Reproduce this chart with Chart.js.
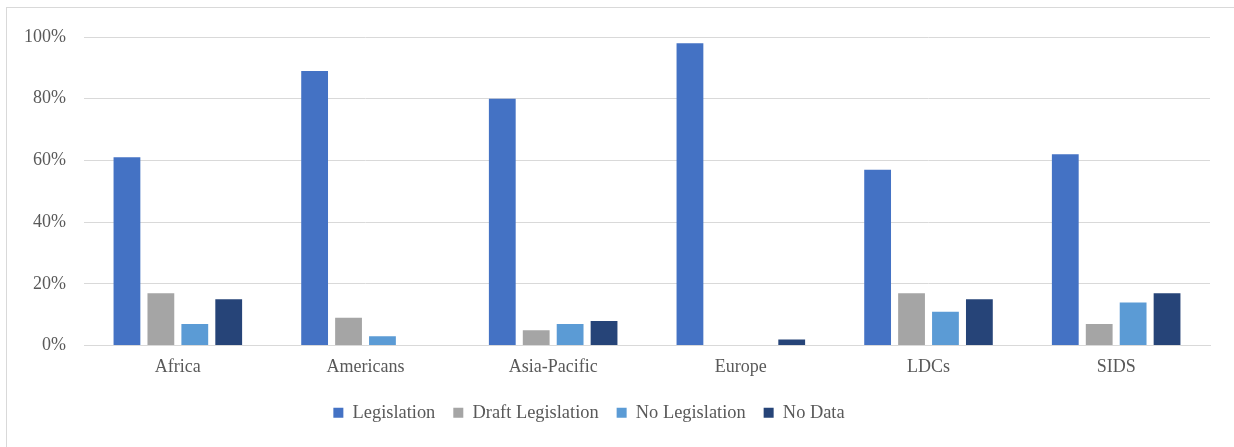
<!DOCTYPE html>
<html>
<head>
<meta charset="utf-8">
<script src="https://cdn.jsdelivr.net/npm/chart.js@4/dist/chart.umd.min.js"></script>
<style>
  html, body { margin: 0; padding: 0; background: #ffffff; overflow: hidden; }
  #frame { position: absolute; left: 6px; top: 7px; width: 1300px; height: 500px; border: 1px solid #d9d9d9; box-sizing: border-box; }
  #wrap { position: absolute; left: 0; top: 0; width: 1234px; height: 447px; }
</style>
</head>
<body>
<div id="frame"></div>
<div id="wrap"><canvas id="c" width="1234" height="447"></canvas></div>
<script>
const categories = ["Africa", "Americans", "Asia-Pacific", "Europe", "LDCs", "SIDS"];
const legislation = [61, 89, 80, 98, 57, 62];
const draftLegislation = [17, 9, 5, 0, 17, 7];
const noLegislation = [7, 3, 7, 0, 11, 14];
const noData = [15, 0, 8, 2, 15, 17];
const yTicks = [0, 20, 40, 60, 80, 100];

const font = "'Liberation Serif', 'Times New Roman', serif";
const textColor = "#595959";
const gridColor = "#d9d9d9";

const shiftLegend = {
  id: "shiftLegend",
  afterLayout(chart) {
    if (chart.legend) { chart.legend.left -= 16; chart.legend.right -= 16; }
  }
};

new Chart(document.getElementById("c"), {
  type: "bar",
  data: {
    labels: categories,
    datasets: [
      { label: "Legislation", data: legislation, backgroundColor: "#4472C4" },
      { label: "Draft Legislation", data: draftLegislation, backgroundColor: "#A5A5A5" },
      { label: "No Legislation", data: noLegislation, backgroundColor: "#5B9BD5" },
      { label: "No Data", data: noData, backgroundColor: "#264478" }
    ]
  },
  plugins: [shiftLegend],
  options: {
    responsive: false,
    animation: false,
    devicePixelRatio: 1,
    layout: { padding: { left: 0, right: 24, top: 37, bottom: 15 } },
    datasets: { bar: { categoryPercentage: 0.723, barPercentage: 0.79, borderWidth: 0 } },
    plugins: {
      tooltip: { enabled: false },
      legend: {
        position: "bottom",
        labels: {
          boxWidth: 10, boxHeight: 10, padding: 18,
          color: textColor,
          font: { family: font, size: 18.4 }
        }
      }
    },
    scales: {
      x: {
        grid: { display: false, drawTicks: false },
        border: { display: true, color: gridColor, width: 1 },
        ticks: { color: textColor, font: { family: font, size: 18 }, padding: 11, maxRotation: 0 },
        afterFit: (s) => { s.height = 40; }
      },
      y: {
        min: 0, max: 100,
        afterBuildTicks: (s) => { s.ticks = yTicks.map(v => ({ value: v })); },
        grid: { color: gridColor, lineWidth: 1, drawTicks: false },
        border: { display: false },
        ticks: { color: textColor, font: { family: font, size: 18 }, padding: 18, callback: (v) => v + "%" },
        afterFit: (s) => { s.width = 84; }
      }
    }
  }
});
</script>
</body>
</html>
